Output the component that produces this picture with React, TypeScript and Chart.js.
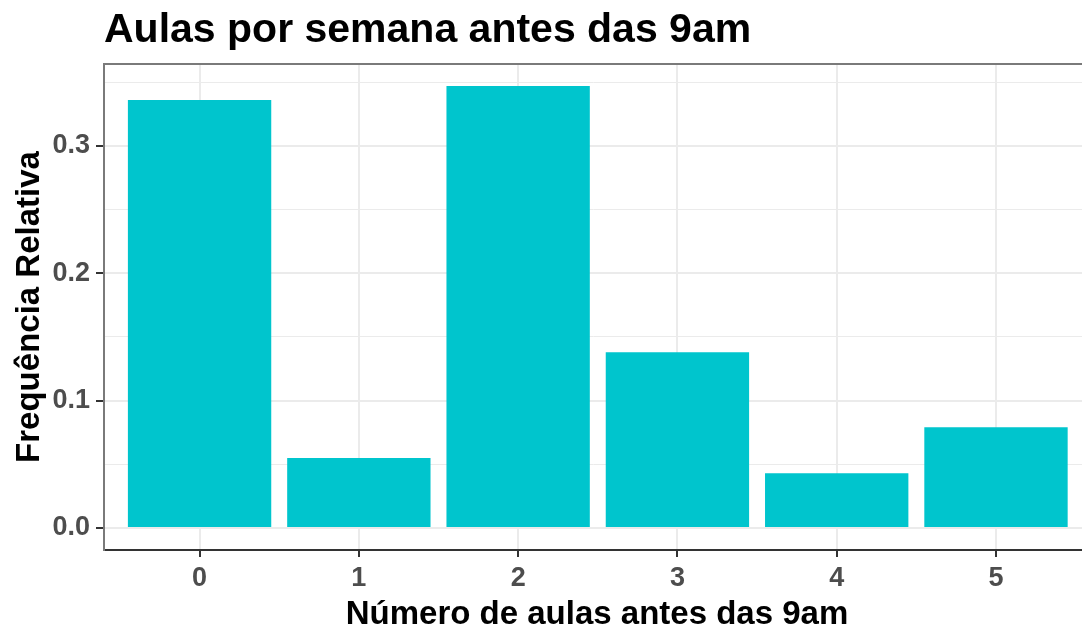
import React, { useEffect, useRef } from 'react';
import { Chart, registerables } from 'chart.js';

Chart.register(...registerables);

// ---- data ----
const categories = [0, 1, 2, 3, 4, 5];
const categoryLabels = ['0', '1', '2', '3', '4', '5'];
const relFreq = [0.336, 0.055, 0.347, 0.138, 0.043, 0.079];
const yMajorTicks = [0, 0.1, 0.2, 0.3];
const yTickLabels = ['0.0', '0.1', '0.2', '0.3'];
const yMinorTicks = [0.05, 0.15, 0.25, 0.35];
const titleText = 'Aulas por semana antes das 9am';
const xTitleText = 'Número de aulas antes das 9am';
const yTitleText = 'Frequência Relativa';

const FONT = '"Liberation Sans", Arial, Helvetica, sans-serif';
const BAR_COLOR = '#00C5CD';
const GRID = '#EBEBEB';

const ggTextPlugin = {
  id: 'ggText',
  afterDraw(chart: any) {
    const { ctx, chartArea } = chart;
    ctx.save();
    // top panel border
    ctx.strokeStyle = '#7a7a7a';
    ctx.lineWidth = 2;
    ctx.beginPath();
    ctx.moveTo(chartArea.left - 1, chartArea.top);
    ctx.lineTo(chartArea.right, chartArea.top);
    ctx.stroke();

    ctx.fillStyle = '#000000';
    ctx.textBaseline = 'alphabetic';
    ctx.font = `bold 41px ${FONT}`;
    ctx.textAlign = 'left';
    ctx.fillText(titleText, chartArea.left, 42);

    ctx.font = `bold 33px ${FONT}`;
    ctx.textAlign = 'center';
    ctx.fillText(xTitleText, 597, 624);

    ctx.translate(39, (chartArea.top + chartArea.bottom) / 2);
    ctx.rotate(-Math.PI / 2);
    ctx.fillText(yTitleText, 0, 0);
    ctx.restore();
  },
};

export default function App() {
  const ref = useRef<HTMLCanvasElement | null>(null);

  useEffect(() => {
    document.body.style.margin = '0';
    document.body.style.overflow = 'hidden';
    const canvas = ref.current;
    if (!canvas) return;
    const maxVal = Math.max(...relFreq);
    const tickFont = { family: FONT, weight: 'bold' as const, size: 27 };
    const isMajorY = (v: number) => yMajorTicks.indexOf(v) >= 0;

    const chart = new Chart(canvas, {
      type: 'bar',
      data: {
        datasets: [
          {
            data: categories.map((c, i) => ({ x: c, y: relFreq[i] })),
            backgroundColor: BAR_COLOR,
            borderWidth: 0,
            barPercentage: 0.9,
            categoryPercentage: 1,
          },
        ],
      },
      options: {
        animation: false,
        responsive: false,
        devicePixelRatio: 1,
        layout: { padding: { top: 64, left: 0, right: 0, bottom: 0 } },
        plugins: {
          legend: { display: false },
          title: { display: false },
          tooltip: { enabled: false },
        },
        scales: {
          x: {
            type: 'linear',
            offset: false,
            min: -0.6,
            max: 5.54,
            afterBuildTicks: (scale: any) => {
              scale.ticks = categories.map((v) => ({ value: v }));
            },
            afterFit: (scale: any) => {
              scale.height = 76;
            },
            ticks: {
              autoSkip: false,
              maxRotation: 0,
              padding: 5,
              color: '#4D4D4D',
              font: tickFont,
              callback: (value: any) => categoryLabels[categories.indexOf(Number(value))],
            },
            grid: {
              offset: false,
              color: GRID,
              lineWidth: 2,
              drawTicks: true,
              tickLength: 7,
              tickColor: '#333333',
              tickWidth: 2,
            },
            border: { display: true, color: '#333333', width: 2 },
          },
          y: {
            type: 'linear',
            min: -maxVal * 0.05,
            max: maxVal * 1.05,
            afterBuildTicks: (scale: any) => {
              scale.ticks = [...yMajorTicks, ...yMinorTicks]
                .sort((a, b) => a - b)
                .map((v) => ({ value: v }));
            },
            afterFit: (scale: any) => {
              scale.width = 104;
            },
            ticks: {
              autoSkip: false,
              padding: 6,
              color: '#4D4D4D',
              font: tickFont,
              callback: (value: any) => {
                const i = yMajorTicks.indexOf(Number(value));
                return i >= 0 ? yTickLabels[i] : '';
              },
            },
            grid: {
              color: GRID,
              lineWidth: (ctx: any) => (isMajorY(ctx.tick?.value) ? 2 : 1),
              drawTicks: true,
              tickLength: 8,
              tickColor: (ctx: any) => (isMajorY(ctx.tick?.value) ? '#333333' : 'rgba(0,0,0,0)'),
              tickWidth: 2,
            },
            border: { display: true, color: '#7a7a7a', width: 2 },
          },
        },
      },
      plugins: [ggTextPlugin],
    } as any);

    return () => chart.destroy();
  }, []);

  return (
    <div style={{ width: 1082, height: 626, background: '#ffffff' }}>
      <canvas ref={ref} width={1082} height={626} />
    </div>
  );
}
